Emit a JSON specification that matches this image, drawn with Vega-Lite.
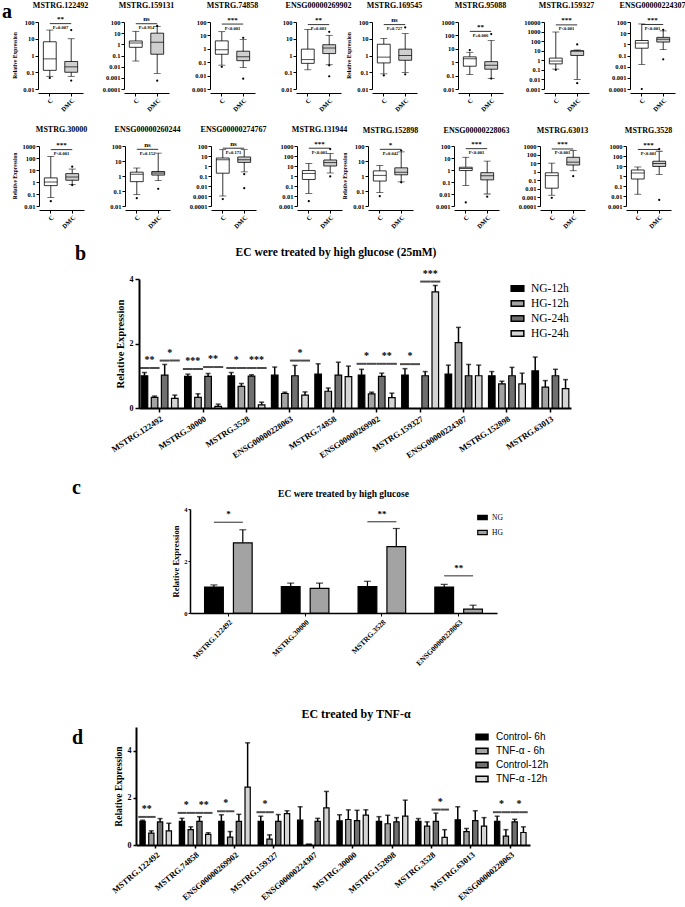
{
"$schema":"https://vega.github.io/schema/vega-lite/v6.json",
"padding":{"left":2,"top":2,"right":0,"bottom":0},
"background":"white",
"config":{"font":"Liberation Serif","view":{"stroke":null},
"axis":{"grid":false,"domainColor":"black","tickColor":"black","labelColor":"black","titleColor":"black","labelFont":"Liberation Serif","titleFont":"Liberation Serif","labelFontWeight":"bold","titleFontWeight":"bold"},
"header":{"labelColor":"black"},
"title":{"font":"Liberation Serif","fontWeight":"bold","color":"black"},
"legend":{"labelColor":"black"}},
"datasets":{
"box":[
{"b":"A1L","pn":"MSTRG.122492","k":"box","g":"C","lo":0.057,"q1":0.13,"md":0.63,"q3":6.6,"hi":33},
{"b":"A1L","pn":"MSTRG.122492","k":"box","g":"DMC","lo":0.057,"q1":0.1,"md":0.21,"q3":0.44,"hi":10},
{"b":"A1L","pn":"MSTRG.122492","k":"out","g":"C","v":0.046},
{"b":"A1L","pn":"MSTRG.122492","k":"out","g":"DMC","v":33},
{"b":"A1L","pn":"MSTRG.122492","k":"out","g":"DMC","v":0.032},
{"b":"A1L","pn":"MSTRG.122492","k":"sig","ya":80,"st":"**","p":"P=0.007"},
{"b":"A1L","pn":"MSTRG.159131","k":"box","g":"C","lo":0.032,"q1":0.54,"md":1.3,"q3":2.0,"hi":14.6},
{"b":"A1L","pn":"MSTRG.159131","k":"box","g":"DMC","lo":0.0025,"q1":0.13,"md":1.5,"q3":10,"hi":40},
{"b":"A1L","pn":"MSTRG.159131","k":"out","g":"DMC","v":0.00056},
{"b":"A1L","pn":"MSTRG.159131","k":"out","g":"DMC","v":44},
{"b":"A1L","pn":"MSTRG.159131","k":"sig","ya":70,"st":"ns","p":"P=0.914"},
{"b":"A1L","pn":"MSTRG.74858","k":"box","g":"C","lo":0.06,"q1":0.39,"md":0.84,"q3":3.9,"hi":19},
{"b":"A1L","pn":"MSTRG.74858","k":"box","g":"DMC","lo":0.039,"q1":0.13,"md":0.26,"q3":0.66,"hi":4.9},
{"b":"A1L","pn":"MSTRG.74858","k":"out","g":"C","v":0.045},
{"b":"A1L","pn":"MSTRG.74858","k":"out","g":"DMC","v":6.6},
{"b":"A1L","pn":"MSTRG.74858","k":"out","g":"DMC","v":0.0059},
{"b":"A1L","pn":"MSTRG.74858","k":"sig","ya":70,"st":"***","p":"P<0.001"},
{"b":"A1L","pn":"ENSG00000269902","k":"box","g":"C","lo":0.14,"q1":0.34,"md":0.57,"q3":2.4,"hi":36},
{"b":"A1L","pn":"ENSG00000269902","k":"box","g":"DMC","lo":0.28,"q1":1.3,"md":2.8,"q3":4.4,"hi":16},
{"b":"A1L","pn":"ENSG00000269902","k":"out","g":"DMC","v":26},
{"b":"A1L","pn":"ENSG00000269902","k":"out","g":"DMC","v":0.26},
{"b":"A1L","pn":"ENSG00000269902","k":"out","g":"DMC","v":0.057},
{"b":"A1L","pn":"ENSG00000269902","k":"sig","ya":70,"st":"**","p":"P=0.003"},
{"b":"A1R","pn":"MSTRG.169545","k":"box","g":"C","lo":0.08,"q1":0.36,"md":0.8,"q3":4.7,"hi":10.5},
{"b":"A1R","pn":"MSTRG.169545","k":"box","g":"DMC","lo":0.096,"q1":0.52,"md":1.0,"q3":2.4,"hi":20},
{"b":"A1R","pn":"MSTRG.169545","k":"out","g":"C","v":0.065},
{"b":"A1R","pn":"MSTRG.169545","k":"out","g":"DMC","v":47},
{"b":"A1R","pn":"MSTRG.169545","k":"out","g":"DMC","v":0.075},
{"b":"A1R","pn":"MSTRG.169545","k":"sig","ya":70,"st":"ns","p":"P=0.727"},
{"b":"A1R","pn":"MSTRG.95088","k":"box","g":"C","lo":0.12,"q1":0.5,"md":1.8,"q3":2.5,"hi":5.5},
{"b":"A1R","pn":"MSTRG.95088","k":"box","g":"DMC","lo":0.063,"q1":0.3,"md":0.6,"q3":1.1,"hi":42},
{"b":"A1R","pn":"MSTRG.95088","k":"out","g":"C","v":8},
{"b":"A1R","pn":"MSTRG.95088","k":"out","g":"DMC","v":126},
{"b":"A1R","pn":"MSTRG.95088","k":"out","g":"DMC","v":0.06},
{"b":"A1R","pn":"MSTRG.95088","k":"sig","ya":200,"st":"**","p":"P=0.006"},
{"b":"A1R","pn":"MSTRG.159327","k":"box","g":"C","lo":0.12,"q1":0.42,"md":0.83,"q3":1.7,"hi":900},
{"b":"A1R","pn":"MSTRG.159327","k":"box","g":"DMC","lo":0.01,"q1":3.2,"md":9,"q3":10,"hi":12},
{"b":"A1R","pn":"MSTRG.159327","k":"out","g":"C","v":0.1},
{"b":"A1R","pn":"MSTRG.159327","k":"out","g":"DMC","v":45},
{"b":"A1R","pn":"MSTRG.159327","k":"out","g":"DMC","v":0.004},
{"b":"A1R","pn":"MSTRG.159327","k":"sig","ya":5000,"st":"***","p":"P<0.001"},
{"b":"A1R","pn":"ENSG00000224307","k":"box","g":"C","lo":0.016,"q1":0.45,"md":1.3,"q3":2.2,"hi":67},
{"b":"A1R","pn":"ENSG00000224307","k":"box","g":"DMC","lo":0.33,"q1":1.6,"md":2.8,"q3":4.2,"hi":16},
{"b":"A1R","pn":"ENSG00000224307","k":"out","g":"C","v":0.0001},
{"b":"A1R","pn":"ENSG00000224307","k":"out","g":"DMC","v":20},
{"b":"A1R","pn":"ENSG00000224307","k":"out","g":"DMC","v":0.046},
{"b":"A1R","pn":"ENSG00000224307","k":"sig","ya":60,"st":"***","p":"P<0.001"},
{"b":"A2L","pn":"MSTRG.30000","k":"box","g":"C","lo":0.05,"q1":0.5,"md":1,"q3":2.2,"hi":135},
{"b":"A2L","pn":"MSTRG.30000","k":"box","g":"DMC","lo":0.6,"q1":1.4,"md":2.6,"q3":5,"hi":12},
{"b":"A2L","pn":"MSTRG.30000","k":"out","g":"C","v":0.025},
{"b":"A2L","pn":"MSTRG.30000","k":"out","g":"DMC","v":19},
{"b":"A2L","pn":"MSTRG.30000","k":"out","g":"DMC","v":0.55},
{"b":"A2L","pn":"MSTRG.30000","k":"sig","ya":500,"st":"***","p":"P<0.001"},
{"b":"A2L","pn":"ENSG00000260244","k":"box","g":"C","lo":0.057,"q1":0.42,"md":1.3,"q3":1.8,"hi":3.4},
{"b":"A2L","pn":"ENSG00000260244","k":"box","g":"DMC","lo":0.49,"q1":1.15,"md":1.6,"q3":2.0,"hi":34},
{"b":"A2L","pn":"ENSG00000260244","k":"out","g":"C","v":0.033},
{"b":"A2L","pn":"ENSG00000260244","k":"out","g":"DMC","v":0.14},
{"b":"A2L","pn":"ENSG00000260244","k":"sig","ya":60,"st":"ns","p":"P=0.152"},
{"b":"A2L","pn":"ENSG00000274767","k":"box","g":"C","lo":0.001,"q1":0.19,"md":4.2,"q3":6.3,"hi":43},
{"b":"A2L","pn":"ENSG00000274767","k":"box","g":"DMC","lo":0.26,"q1":2.3,"md":4.2,"q3":8,"hi":43},
{"b":"A2L","pn":"ENSG00000274767","k":"out","g":"C","v":0.0005},
{"b":"A2L","pn":"ENSG00000274767","k":"out","g":"DMC","v":0.15},
{"b":"A2L","pn":"ENSG00000274767","k":"out","g":"DMC","v":0.006},
{"b":"A2L","pn":"ENSG00000274767","k":"sig","ya":60,"st":"ns","p":"P=0.171"},
{"b":"A2L","pn":"MSTRG.131944","k":"box","g":"C","lo":0.018,"q1":0.45,"md":1.8,"q3":3.5,"hi":18},
{"b":"A2L","pn":"MSTRG.131944","k":"box","g":"DMC","lo":2,"q1":10,"md":22,"q3":40,"hi":180},
{"b":"A2L","pn":"MSTRG.131944","k":"out","g":"C","v":0.003},
{"b":"A2L","pn":"MSTRG.131944","k":"out","g":"DMC","v":500},
{"b":"A2L","pn":"MSTRG.131944","k":"out","g":"DMC","v":0.9},
{"b":"A2L","pn":"MSTRG.131944","k":"sig","ya":600,"st":"***","p":"P<0.001"},
{"b":"A2R","pn":"MSTRG.152898","k":"box","g":"C","lo":0.08,"q1":0.46,"md":1.1,"q3":2.2,"hi":5},
{"b":"A2R","pn":"MSTRG.152898","k":"box","g":"DMC","lo":0.4,"q1":1.2,"md":1.8,"q3":3.5,"hi":40},
{"b":"A2R","pn":"MSTRG.152898","k":"out","g":"C","v":0.045},
{"b":"A2R","pn":"MSTRG.152898","k":"out","g":"DMC","v":50},
{"b":"A2R","pn":"MSTRG.152898","k":"out","g":"DMC","v":0.38},
{"b":"A2R","pn":"MSTRG.152898","k":"sig","ya":60,"st":"*","p":"P=0.042"},
{"b":"A2R","pn":"ENSG00000228063","k":"box","g":"C","lo":0.05,"q1":0.9,"md":1.35,"q3":1.7,"hi":11.5},
{"b":"A2R","pn":"ENSG00000228063","k":"box","g":"DMC","lo":0.01,"q1":0.15,"md":0.33,"q3":0.6,"hi":5.5},
{"b":"A2R","pn":"ENSG00000228063","k":"out","g":"C","v":0.002},
{"b":"A2R","pn":"ENSG00000228063","k":"out","g":"DMC","v":0.006},
{"b":"A2R","pn":"ENSG00000228063","k":"sig","ya":60,"st":"***","p":"P<0.001"},
{"b":"A2R","pn":"MSTRG.63013","k":"box","g":"C","lo":0.0018,"q1":0.012,"md":0.35,"q3":0.75,"hi":10},
{"b":"A2R","pn":"MSTRG.63013","k":"box","g":"DMC","lo":1.3,"q1":6,"md":13,"q3":48,"hi":300},
{"b":"A2R","pn":"MSTRG.63013","k":"out","g":"C","v":0.0009},
{"b":"A2R","pn":"MSTRG.63013","k":"out","g":"DMC","v":0.3},
{"b":"A2R","pn":"MSTRG.63013","k":"sig","ya":450,"st":"***","p":"P<0.001"},
{"b":"A2R","pn":"MSTRG.3528","k":"box","g":"C","lo":0.015,"q1":0.5,"md":2,"q3":4,"hi":8},
{"b":"A2R","pn":"MSTRG.3528","k":"box","g":"DMC","lo":1.4,"q1":9,"md":18,"q3":30,"hi":300},
{"b":"A2R","pn":"MSTRG.3528","k":"out","g":"DMC","v":500},
{"b":"A2R","pn":"MSTRG.3528","k":"out","g":"DMC","v":0.004},
{"b":"A2R","pn":"MSTRG.3528","k":"sig","ya":450,"st":"***","p":"P<0.001"}
],
"hgb":[
{"gene":"MSTRG.122492","cond":"NG-12h","m":1.0,"hi":1.1},{"gene":"MSTRG.122492","cond":"HG-12h","m":0.33,"hi":0.37},{"gene":"MSTRG.122492","cond":"NG-24h","m":1.02,"hi":1.35},{"gene":"MSTRG.122492","cond":"HG-24h","m":0.3,"hi":0.4},
{"gene":"MSTRG.30000","cond":"NG-12h","m":0.98,"hi":1.05},{"gene":"MSTRG.30000","cond":"HG-12h","m":0.33,"hi":0.44},{"gene":"MSTRG.30000","cond":"NG-24h","m":0.98,"hi":1.07},{"gene":"MSTRG.30000","cond":"HG-24h","m":0.05,"hi":0.12},
{"gene":"MSTRG.3528","cond":"NG-12h","m":1.0,"hi":1.1},{"gene":"MSTRG.3528","cond":"HG-12h","m":0.67,"hi":0.76},{"gene":"MSTRG.3528","cond":"NG-24h","m":0.99,"hi":1.03},{"gene":"MSTRG.3528","cond":"HG-24h","m":0.1,"hi":0.18},
{"gene":"ENSG00000228063","cond":"NG-12h","m":1.02,"hi":1.27},{"gene":"ENSG00000228063","cond":"HG-12h","m":0.45,"hi":0.49},{"gene":"ENSG00000228063","cond":"NG-24h","m":1.0,"hi":1.32},{"gene":"ENSG00000228063","cond":"HG-24h","m":0.4,"hi":0.5},
{"gene":"MSTRG.74858","cond":"NG-12h","m":1.05,"hi":1.37},{"gene":"MSTRG.74858","cond":"HG-12h","m":0.52,"hi":0.62},{"gene":"MSTRG.74858","cond":"NG-24h","m":1.02,"hi":1.42},{"gene":"MSTRG.74858","cond":"HG-24h","m":0.97,"hi":1.3},
{"gene":"ENSG00000269902","cond":"NG-12h","m":1.02,"hi":1.2},{"gene":"ENSG00000269902","cond":"HG-12h","m":0.44,"hi":0.49},{"gene":"ENSG00000269902","cond":"NG-24h","m":0.98,"hi":1.08},{"gene":"ENSG00000269902","cond":"HG-24h","m":0.32,"hi":0.46},
{"gene":"MSTRG.159327","cond":"NG-12h","m":1.02,"hi":1.22},{"gene":"MSTRG.159327","cond":"NG-24h","m":1.0,"hi":1.13},{"gene":"MSTRG.159327","cond":"HG-24h","m":3.6,"hi":3.8},
{"gene":"ENSG00000224307","cond":"NG-12h","m":1.05,"hi":1.33},{"gene":"ENSG00000224307","cond":"HG-12h","m":2.03,"hi":2.5},{"gene":"ENSG00000224307","cond":"NG-24h","m":1.0,"hi":1.35},{"gene":"ENSG00000224307","cond":"HG-24h","m":1.0,"hi":1.33},
{"gene":"MSTRG.152898","cond":"NG-12h","m":1.0,"hi":1.13},{"gene":"MSTRG.152898","cond":"HG-12h","m":0.75,"hi":0.83},{"gene":"MSTRG.152898","cond":"NG-24h","m":1.0,"hi":1.26},{"gene":"MSTRG.152898","cond":"HG-24h","m":0.75,"hi":1.08},
{"gene":"MSTRG.63013","cond":"NG-12h","m":1.15,"hi":1.58},{"gene":"MSTRG.63013","cond":"HG-12h","m":0.65,"hi":0.85},{"gene":"MSTRG.63013","cond":"NG-24h","m":1.0,"hi":1.2},{"gene":"MSTRG.63013","cond":"HG-24h","m":0.6,"hi":0.88}
],
"hgbs":[
{"gene":"MSTRG.122492","c1":"NG-12h","c2":"HG-12h","st":"**","y":1.24},{"gene":"MSTRG.122492","c1":"NG-24h","c2":"HG-24h","st":"*","y":1.47},
{"gene":"MSTRG.30000","c1":"NG-12h","c2":"HG-12h","st":"***","y":1.21},{"gene":"MSTRG.30000","c1":"NG-24h","c2":"HG-24h","st":"**","y":1.27},
{"gene":"MSTRG.3528","c1":"NG-12h","c2":"HG-12h","st":"*","y":1.24},{"gene":"MSTRG.3528","c1":"NG-24h","c2":"HG-24h","st":"***","y":1.24},
{"gene":"ENSG00000228063","c1":"NG-24h","c2":"HG-24h","st":"*","y":1.47},
{"gene":"ENSG00000269902","c1":"NG-12h","c2":"HG-12h","st":"*","y":1.37},{"gene":"ENSG00000269902","c1":"NG-24h","c2":"HG-24h","st":"**","y":1.37},
{"gene":"MSTRG.159327","c1":"NG-12h","c2":"HG-12h","st":"*","y":1.36},{"gene":"MSTRG.159327","c1":"NG-24h","c2":"HG-24h","st":"***","y":3.92}
],
"hgc":[
{"gene":"MSTRG.122492","cond":"NG","m":1.0,"hi":1.08},{"gene":"MSTRG.122492","cond":"HG","m":2.7,"hi":3.2},
{"gene":"MSTRG.30000","cond":"NG","m":1.02,"hi":1.15},{"gene":"MSTRG.30000","cond":"HG","m":0.95,"hi":1.15},
{"gene":"MSTRG.3528","cond":"NG","m":1.02,"hi":1.22},{"gene":"MSTRG.3528","cond":"HG","m":2.55,"hi":3.25},
{"gene":"ENSG00000228063","cond":"NG","m":1.0,"hi":1.1},{"gene":"ENSG00000228063","cond":"HG","m":0.15,"hi":0.3}
],
"hgcs":[
{"gene":"MSTRG.122492","st":"*","y":3.49},{"gene":"MSTRG.3528","st":"**","y":3.51},{"gene":"ENSG00000228063","st":"**","y":1.43}
],
"tnf":[
{"gene":"MSTRG.122492","cond":"Control- 6h","m":1.0,"hi":1.05},{"gene":"MSTRG.122492","cond":"TNF-α - 6h","m":0.5,"hi":0.6},{"gene":"MSTRG.122492","cond":"Control-12h","m":0.98,"hi":1.12},{"gene":"MSTRG.122492","cond":"TNF-α -12h","m":0.6,"hi":0.92},
{"gene":"MSTRG.74858","cond":"Control- 6h","m":1.0,"hi":1.13},{"gene":"MSTRG.74858","cond":"TNF-α - 6h","m":0.65,"hi":0.77},{"gene":"MSTRG.74858","cond":"Control-12h","m":1.0,"hi":1.2},{"gene":"MSTRG.74858","cond":"TNF-α -12h","m":0.45,"hi":0.52},
{"gene":"ENSG00000269902","cond":"Control- 6h","m":1.0,"hi":1.28},{"gene":"ENSG00000269902","cond":"TNF-α - 6h","m":0.33,"hi":0.57},{"gene":"ENSG00000269902","cond":"Control-12h","m":1.0,"hi":1.3},{"gene":"ENSG00000269902","cond":"TNF-α -12h","m":2.45,"hi":4.33},
{"gene":"MSTRG.159327","cond":"Control- 6h","m":1.0,"hi":1.22},{"gene":"MSTRG.159327","cond":"TNF-α - 6h","m":0.25,"hi":0.43},{"gene":"MSTRG.159327","cond":"Control-12h","m":1.0,"hi":1.29},{"gene":"MSTRG.159327","cond":"TNF-α -12h","m":1.33,"hi":1.45},
{"gene":"ENSG00000224307","cond":"Control- 6h","m":1.05,"hi":1.62},{"gene":"ENSG00000224307","cond":"TNF-α - 6h","m":0.03,"hi":0.03},{"gene":"ENSG00000224307","cond":"Control-12h","m":1.0,"hi":1.13},{"gene":"ENSG00000224307","cond":"TNF-α -12h","m":1.57,"hi":2.27},
{"gene":"MSTRG.30000","cond":"Control- 6h","m":1.02,"hi":1.28},{"gene":"MSTRG.30000","cond":"TNF-α - 6h","m":1.08,"hi":1.49},{"gene":"MSTRG.30000","cond":"Control-12h","m":1.03,"hi":1.47},{"gene":"MSTRG.30000","cond":"TNF-α -12h","m":1.27,"hi":1.49},
{"gene":"MSTRG.152898","cond":"Control- 6h","m":1.0,"hi":1.2},{"gene":"MSTRG.152898","cond":"TNF-α - 6h","m":0.9,"hi":1.26},{"gene":"MSTRG.152898","cond":"Control-12h","m":0.98,"hi":1.16},{"gene":"MSTRG.152898","cond":"TNF-α -12h","m":1.22,"hi":1.9},
{"gene":"MSTRG.3528","cond":"Control- 6h","m":1.0,"hi":1.12},{"gene":"MSTRG.3528","cond":"TNF-α - 6h","m":0.8,"hi":0.98},{"gene":"MSTRG.3528","cond":"Control-12h","m":1.0,"hi":1.35},{"gene":"MSTRG.3528","cond":"TNF-α -12h","m":0.32,"hi":0.65},
{"gene":"MSTRG.63013","cond":"Control- 6h","m":1.07,"hi":1.62},{"gene":"MSTRG.63013","cond":"TNF-α - 6h","m":0.57,"hi":0.7},{"gene":"MSTRG.63013","cond":"Control-12h","m":1.03,"hi":1.45},{"gene":"MSTRG.63013","cond":"TNF-α -12h","m":0.8,"hi":1.16},
{"gene":"ENSG00000228063","cond":"Control- 6h","m":1.0,"hi":1.22},{"gene":"ENSG00000228063","cond":"TNF-α - 6h","m":0.38,"hi":0.65},{"gene":"ENSG00000228063","cond":"Control-12h","m":0.98,"hi":1.09},{"gene":"ENSG00000228063","cond":"TNF-α -12h","m":0.53,"hi":0.77}
],
"tnfs":[
{"gene":"MSTRG.122492","c1":"Control- 6h","c2":"TNF-α - 6h","st":"**","y":1.19},
{"gene":"MSTRG.74858","c1":"Control- 6h","c2":"TNF-α - 6h","st":"*","y":1.36},{"gene":"MSTRG.74858","c1":"Control-12h","c2":"TNF-α -12h","st":"**","y":1.36},
{"gene":"ENSG00000269902","c1":"Control- 6h","c2":"TNF-α - 6h","st":"*","y":1.43},
{"gene":"MSTRG.159327","c1":"Control- 6h","c2":"TNF-α - 6h","st":"*","y":1.39},
{"gene":"MSTRG.3528","c1":"Control-12h","c2":"TNF-α -12h","st":"*","y":1.5},
{"gene":"ENSG00000228063","c1":"Control- 6h","c2":"TNF-α - 6h","st":"*","y":1.39},{"gene":"ENSG00000228063","c1":"Control-12h","c2":"TNF-α -12h","st":"*","y":1.39}
]
},
"resolve":{"scale":{"fill":"independent","color":"independent","xOffset":"independent"},"legend":{"fill":"independent","color":"independent"}},
"spacing":18,
"vconcat":[
{"spacing":14,"resolve":{"scale":{"fill":"independent","color":"independent","xOffset":"independent"},"legend":{"fill":"independent","color":"independent"}},"vconcat":[
{"spacing":13,"vconcat":[
 {"spacing":0,"hconcat":[
  {"width":10,"height":10,"data":{"values":[]},"mark":"point","title":{"text":"a","anchor":"start","fontSize":20,"offset":0}},
  {"spacing":-6,"hconcat":[
   {"data":{"name":"box"},"transform":[{"filter":"datum.b=='A1L'"}],
    "facet":{"row":{"field":"b","type":"nominal","title":null,"header":{"labelExpr":"'Relative Expression'","labelAngle":-90,"labelOrient":"left","labelFont":"Liberation Serif","labelFontWeight":"bold","labelFontSize":5.5,"labelPadding":2}},
     "column":{"field":"pn","type":"nominal","title":null,"sort":["MSTRG.122492","MSTRG.159131","MSTRG.74858","ENSG00000269902"],"header":{"labelFont":"Liberation Serif","labelFontWeight":"bold","labelFontSize":8,"labelPadding":5}}},
    "spacing":{"column":19,"row":0},"resolve":{"scale":{"y":"independent"}},
    "spec":{"width":45,"height":67,
     "encoding":{"x":{"field":"g","type":"nominal","scale":{"domain":["C","DMC"],"paddingInner":0.4,"paddingOuter":0.25},"axis":{"title":null,"labelAngle":-45,"labelFontSize":6.5,"tickSize":3,"labelPadding":1,"domainWidth":1}}},
     "layer":[
      {"transform":[{"filter":"datum.k=='box'"}],"mark":{"type":"rule","color":"black","strokeWidth":0.8},"encoding":{"y":{"field":"lo","type":"quantitative","scale":{"type":"log"},"axis":{"title":null,"values":[0.0001,0.001,0.01,0.1,1,10,100,1000,10000],"tickCount":20,"labelExpr":"format(datum.value,'~g')","labelFontSize":6.5,"tickSize":3,"labelPadding":1,"domainWidth":1}},"y2":{"field":"hi"}}},
      {"transform":[{"filter":"datum.k=='box'"}],"mark":{"type":"tick","color":"black","thickness":0.8,"size":7},"encoding":{"y":{"field":"lo","type":"quantitative"}}},
      {"transform":[{"filter":"datum.k=='box'"}],"mark":{"type":"tick","color":"black","thickness":0.8,"size":7},"encoding":{"y":{"field":"hi","type":"quantitative"}}},
      {"transform":[{"filter":"datum.k=='box'"}],"mark":{"type":"bar","stroke":"black","strokeWidth":0.8},"encoding":{"y":{"field":"q1","type":"quantitative"},"y2":{"field":"q3"},"color":{"field":"g","type":"nominal","scale":{"domain":["C","DMC"],"range":["#ffffff","#cfcfcf"]},"legend":null}}},
      {"transform":[{"filter":"datum.k=='box'"}],"mark":{"type":"tick","color":"black","thickness":1,"size":13},"encoding":{"y":{"field":"md","type":"quantitative"}}},
      {"transform":[{"filter":"datum.k=='out'"}],"mark":{"type":"point","filled":true,"color":"black","size":5,"opacity":1},"encoding":{"y":{"field":"v","type":"quantitative"}}},
      {"transform":[{"filter":"datum.k=='sig'"}],"mark":{"type":"rule","color":"black","strokeWidth":0.8},"encoding":{"x":{"datum":"C"},"x2":{"datum":"DMC"},"y":{"field":"ya","type":"quantitative"}}},
      {"transform":[{"filter":"datum.k=='sig'"}],"mark":{"type":"text","dx":10.7,"dy":-1.5,"baseline":"bottom","fontSize":7,"fontWeight":"bold"},"encoding":{"x":{"datum":"C"},"y":{"field":"ya","type":"quantitative"},"text":{"field":"st"}}},
      {"transform":[{"filter":"datum.k=='sig'"}],"mark":{"type":"text","dx":10.7,"dy":1.5,"baseline":"top","fontSize":4.5,"fontWeight":"bold"},"encoding":{"x":{"datum":"C"},"y":{"field":"ya","type":"quantitative"},"text":{"field":"p"}}}
     ]}},
   {"data":{"name":"box"},"transform":[{"filter":"datum.b=='A1R'"}],
    "facet":{"row":{"field":"b","type":"nominal","title":null,"header":{"labelExpr":"'Relative Expression'","labelAngle":-90,"labelOrient":"left","labelFont":"Liberation Serif","labelFontWeight":"bold","labelFontSize":5.5,"labelPadding":2}},
     "column":{"field":"pn","type":"nominal","title":null,"sort":["MSTRG.169545","MSTRG.95088","MSTRG.159327","ENSG00000224307"],"header":{"labelFont":"Liberation Serif","labelFontWeight":"bold","labelFontSize":8,"labelPadding":5}}},
    "spacing":{"column":19,"row":0},"resolve":{"scale":{"y":"independent"}},
    "spec":{"width":45,"height":67,
     "encoding":{"x":{"field":"g","type":"nominal","scale":{"domain":["C","DMC"],"paddingInner":0.4,"paddingOuter":0.25},"axis":{"title":null,"labelAngle":-45,"labelFontSize":6.5,"tickSize":3,"labelPadding":1,"domainWidth":1}}},
     "layer":[
      {"transform":[{"filter":"datum.k=='box'"}],"mark":{"type":"rule","color":"black","strokeWidth":0.8},"encoding":{"y":{"field":"lo","type":"quantitative","scale":{"type":"log"},"axis":{"title":null,"values":[0.0001,0.001,0.01,0.1,1,10,100,1000,10000],"tickCount":20,"labelExpr":"format(datum.value,'~g')","labelFontSize":6.5,"tickSize":3,"labelPadding":1,"domainWidth":1}},"y2":{"field":"hi"}}},
      {"transform":[{"filter":"datum.k=='box'"}],"mark":{"type":"tick","color":"black","thickness":0.8,"size":7},"encoding":{"y":{"field":"lo","type":"quantitative"}}},
      {"transform":[{"filter":"datum.k=='box'"}],"mark":{"type":"tick","color":"black","thickness":0.8,"size":7},"encoding":{"y":{"field":"hi","type":"quantitative"}}},
      {"transform":[{"filter":"datum.k=='box'"}],"mark":{"type":"bar","stroke":"black","strokeWidth":0.8},"encoding":{"y":{"field":"q1","type":"quantitative"},"y2":{"field":"q3"},"color":{"field":"g","type":"nominal","scale":{"domain":["C","DMC"],"range":["#ffffff","#cfcfcf"]},"legend":null}}},
      {"transform":[{"filter":"datum.k=='box'"}],"mark":{"type":"tick","color":"black","thickness":1,"size":13},"encoding":{"y":{"field":"md","type":"quantitative"}}},
      {"transform":[{"filter":"datum.k=='out'"}],"mark":{"type":"point","filled":true,"color":"black","size":5,"opacity":1},"encoding":{"y":{"field":"v","type":"quantitative"}}},
      {"transform":[{"filter":"datum.k=='sig'"}],"mark":{"type":"rule","color":"black","strokeWidth":0.8},"encoding":{"x":{"datum":"C"},"x2":{"datum":"DMC"},"y":{"field":"ya","type":"quantitative"}}},
      {"transform":[{"filter":"datum.k=='sig'"}],"mark":{"type":"text","dx":10.7,"dy":-1.5,"baseline":"bottom","fontSize":7,"fontWeight":"bold"},"encoding":{"x":{"datum":"C"},"y":{"field":"ya","type":"quantitative"},"text":{"field":"st"}}},
      {"transform":[{"filter":"datum.k=='sig'"}],"mark":{"type":"text","dx":10.7,"dy":1.5,"baseline":"top","fontSize":4.5,"fontWeight":"bold"},"encoding":{"x":{"datum":"C"},"y":{"field":"ya","type":"quantitative"},"text":{"field":"p"}}}
     ]}}
  ]}
 ]},
 {"spacing":0,"hconcat":[
  {"width":10,"height":10,"data":{"values":[]},"mark":"point"},
  {"spacing":-6,"hconcat":[
   {"data":{"name":"box"},"transform":[{"filter":"datum.b=='A2L'"}],
    "facet":{"row":{"field":"b","type":"nominal","title":null,"header":{"labelExpr":"'Relative Expression'","labelAngle":-90,"labelOrient":"left","labelFont":"Liberation Serif","labelFontWeight":"bold","labelFontSize":5.5,"labelPadding":2}},
     "column":{"field":"pn","type":"nominal","title":null,"sort":["MSTRG.30000","ENSG00000260244","ENSG00000274767","MSTRG.131944"],"header":{"labelFont":"Liberation Serif","labelFontWeight":"bold","labelFontSize":8,"labelPadding":5}}},
    "spacing":{"column":19,"row":0},"resolve":{"scale":{"y":"independent"}},
    "spec":{"width":45,"height":60,
     "encoding":{"x":{"field":"g","type":"nominal","scale":{"domain":["C","DMC"],"paddingInner":0.4,"paddingOuter":0.25},"axis":{"title":null,"labelAngle":-45,"labelFontSize":6.5,"tickSize":3,"labelPadding":1,"domainWidth":1}}},
     "layer":[
      {"transform":[{"filter":"datum.k=='box'"}],"mark":{"type":"rule","color":"black","strokeWidth":0.8},"encoding":{"y":{"field":"lo","type":"quantitative","scale":{"type":"log"},"axis":{"title":null,"values":[0.0001,0.001,0.01,0.1,1,10,100,1000,10000],"tickCount":20,"labelExpr":"format(datum.value,'~g')","labelFontSize":6.5,"tickSize":3,"labelPadding":1,"domainWidth":1}},"y2":{"field":"hi"}}},
      {"transform":[{"filter":"datum.k=='box'"}],"mark":{"type":"tick","color":"black","thickness":0.8,"size":7},"encoding":{"y":{"field":"lo","type":"quantitative"}}},
      {"transform":[{"filter":"datum.k=='box'"}],"mark":{"type":"tick","color":"black","thickness":0.8,"size":7},"encoding":{"y":{"field":"hi","type":"quantitative"}}},
      {"transform":[{"filter":"datum.k=='box'"}],"mark":{"type":"bar","stroke":"black","strokeWidth":0.8},"encoding":{"y":{"field":"q1","type":"quantitative"},"y2":{"field":"q3"},"color":{"field":"g","type":"nominal","scale":{"domain":["C","DMC"],"range":["#ffffff","#cfcfcf"]},"legend":null}}},
      {"transform":[{"filter":"datum.k=='box'"}],"mark":{"type":"tick","color":"black","thickness":1,"size":13},"encoding":{"y":{"field":"md","type":"quantitative"}}},
      {"transform":[{"filter":"datum.k=='out'"}],"mark":{"type":"point","filled":true,"color":"black","size":5,"opacity":1},"encoding":{"y":{"field":"v","type":"quantitative"}}},
      {"transform":[{"filter":"datum.k=='sig'"}],"mark":{"type":"rule","color":"black","strokeWidth":0.8},"encoding":{"x":{"datum":"C"},"x2":{"datum":"DMC"},"y":{"field":"ya","type":"quantitative"}}},
      {"transform":[{"filter":"datum.k=='sig'"}],"mark":{"type":"text","dx":10.7,"dy":-1.5,"baseline":"bottom","fontSize":7,"fontWeight":"bold"},"encoding":{"x":{"datum":"C"},"y":{"field":"ya","type":"quantitative"},"text":{"field":"st"}}},
      {"transform":[{"filter":"datum.k=='sig'"}],"mark":{"type":"text","dx":10.7,"dy":1.5,"baseline":"top","fontSize":4.5,"fontWeight":"bold"},"encoding":{"x":{"datum":"C"},"y":{"field":"ya","type":"quantitative"},"text":{"field":"p"}}}
     ]}},
   {"data":{"name":"box"},"transform":[{"filter":"datum.b=='A2R'"}],
    "facet":{"row":{"field":"b","type":"nominal","title":null,"header":{"labelExpr":"'Relative Expression'","labelAngle":-90,"labelOrient":"left","labelFont":"Liberation Serif","labelFontWeight":"bold","labelFontSize":5.5,"labelPadding":2}},
     "column":{"field":"pn","type":"nominal","title":null,"sort":["MSTRG.152898","ENSG00000228063","MSTRG.63013","MSTRG.3528"],"header":{"labelFont":"Liberation Serif","labelFontWeight":"bold","labelFontSize":8,"labelPadding":5}}},
    "spacing":{"column":19,"row":0},"resolve":{"scale":{"y":"independent"}},
    "spec":{"width":45,"height":60,
     "encoding":{"x":{"field":"g","type":"nominal","scale":{"domain":["C","DMC"],"paddingInner":0.4,"paddingOuter":0.25},"axis":{"title":null,"labelAngle":-45,"labelFontSize":6.5,"tickSize":3,"labelPadding":1,"domainWidth":1}}},
     "layer":[
      {"transform":[{"filter":"datum.k=='box'"}],"mark":{"type":"rule","color":"black","strokeWidth":0.8},"encoding":{"y":{"field":"lo","type":"quantitative","scale":{"type":"log"},"axis":{"title":null,"values":[0.0001,0.001,0.01,0.1,1,10,100,1000,10000],"tickCount":20,"labelExpr":"format(datum.value,'~g')","labelFontSize":6.5,"tickSize":3,"labelPadding":1,"domainWidth":1}},"y2":{"field":"hi"}}},
      {"transform":[{"filter":"datum.k=='box'"}],"mark":{"type":"tick","color":"black","thickness":0.8,"size":7},"encoding":{"y":{"field":"lo","type":"quantitative"}}},
      {"transform":[{"filter":"datum.k=='box'"}],"mark":{"type":"tick","color":"black","thickness":0.8,"size":7},"encoding":{"y":{"field":"hi","type":"quantitative"}}},
      {"transform":[{"filter":"datum.k=='box'"}],"mark":{"type":"bar","stroke":"black","strokeWidth":0.8},"encoding":{"y":{"field":"q1","type":"quantitative"},"y2":{"field":"q3"},"color":{"field":"g","type":"nominal","scale":{"domain":["C","DMC"],"range":["#ffffff","#cfcfcf"]},"legend":null}}},
      {"transform":[{"filter":"datum.k=='box'"}],"mark":{"type":"tick","color":"black","thickness":1,"size":13},"encoding":{"y":{"field":"md","type":"quantitative"}}},
      {"transform":[{"filter":"datum.k=='out'"}],"mark":{"type":"point","filled":true,"color":"black","size":5,"opacity":1},"encoding":{"y":{"field":"v","type":"quantitative"}}},
      {"transform":[{"filter":"datum.k=='sig'"}],"mark":{"type":"rule","color":"black","strokeWidth":0.8},"encoding":{"x":{"datum":"C"},"x2":{"datum":"DMC"},"y":{"field":"ya","type":"quantitative"}}},
      {"transform":[{"filter":"datum.k=='sig'"}],"mark":{"type":"text","dx":10.7,"dy":-1.5,"baseline":"bottom","fontSize":7,"fontWeight":"bold"},"encoding":{"x":{"datum":"C"},"y":{"field":"ya","type":"quantitative"},"text":{"field":"st"}}},
      {"transform":[{"filter":"datum.k=='sig'"}],"mark":{"type":"text","dx":10.7,"dy":1.5,"baseline":"top","fontSize":4.5,"fontWeight":"bold"},"encoding":{"x":{"datum":"C"},"y":{"field":"ya","type":"quantitative"},"text":{"field":"p"}}}
     ]}}
  ]}
 ]}
]},
 {"spacing":0,"hconcat":[
  {"width":107,"height":10,"data":{"values":[]},"mark":"point","title":{"text":"b","anchor":"start","fontSize":20,"dx":73,"offset":15}},
  {"width":432,"height":129,
   "title":{"text":"EC were treated by high glucose (25mM)","fontSize":11.5,"dx":-19,"offset":10},
   "encoding":{"x":{"field":"gene","type":"nominal","sort":["MSTRG.122492","MSTRG.30000","MSTRG.3528","ENSG00000228063","MSTRG.74858","ENSG00000269902","MSTRG.159327","ENSG00000224307","MSTRG.152898","MSTRG.63013"],"scale":{"paddingInner":0.15,"paddingOuter":0.05},"axis":{"title":null,"labelAngle":-33,"labelFontSize":8.5,"domainWidth":2,"tickWidth":1.5,"tickSize":4,"labelPadding":2}}},
   "layer":[
    {"data":{"name":"hgb"},"mark":{"type":"bar","stroke":"black","strokeWidth":1.2},"encoding":{"xOffset":{"field":"cond","type":"nominal","sort":["NG-12h","HG-12h","NG-24h","HG-24h"],"scale":{"domain":["NG-12h","HG-12h","NG-24h","HG-24h"],"paddingInner":0.35,"paddingOuter":0}},"y":{"field":"m","type":"quantitative","scale":{"domain":[0,4],"nice":false},"axis":{"title":"Relative Expression","values":[0,1,2,3,4],"labelFontSize":8,"titleFontSize":10.5,"domainWidth":2,"tickWidth":1.5,"tickSize":4,"labelPadding":2,"titlePadding":4}},"fill":{"field":"cond","type":"nominal","scale":{"domain":["NG-12h","HG-12h","NG-24h","HG-24h"],"range":["#000000","#a3a3a3","#6f6f6f","#d4d4d4"]},"legend":{"title":null,"orient":"none","legendX":508,"legendY":2,"symbolType":"M-1,-0.45H1V0.45H-1Z","symbolSize":160,"symbolStrokeColor":"black","symbolStrokeWidth":1.5,"labelFontSize":11.5,"labelFont":"Liberation Serif","rowPadding":1,"labelOffset":6}}}},
    {"data":{"name":"hgb"},"mark":{"type":"rule","color":"black","strokeWidth":1.5},"encoding":{"xOffset":{"field":"cond","type":"nominal","scale":{"domain":["NG-12h","HG-12h","NG-24h","HG-24h"],"paddingInner":0.35,"paddingOuter":0}},"y":{"field":"m","type":"quantitative"},"y2":{"field":"hi"}}},
    {"data":{"name":"hgb"},"mark":{"type":"tick","color":"black","thickness":1.5,"size":5},"encoding":{"xOffset":{"field":"cond","type":"nominal","scale":{"domain":["NG-12h","HG-12h","NG-24h","HG-24h"],"paddingInner":0.35,"paddingOuter":0}},"y":{"field":"hi","type":"quantitative"}}},
    {"data":{"name":"hgbs"},"mark":{"type":"tick","color":"black","thickness":2,"size":10},"encoding":{"xOffset":{"field":"c1","type":"nominal","scale":{"domain":["NG-12h","HG-12h","NG-24h","HG-24h"],"paddingInner":0.35,"paddingOuter":0}},"y":{"field":"y","type":"quantitative"}}},
    {"data":{"name":"hgbs"},"mark":{"type":"tick","color":"black","thickness":2,"size":10},"encoding":{"xOffset":{"field":"c2","type":"nominal","scale":{"domain":["NG-12h","HG-12h","NG-24h","HG-24h"],"paddingInner":0.35,"paddingOuter":0}},"y":{"field":"y","type":"quantitative"}}},
    {"data":{"name":"hgbs"},"mark":{"type":"text","dx":5,"dy":-3,"baseline":"bottom","fontSize":10,"fontWeight":"bold"},"encoding":{"xOffset":{"field":"c1","type":"nominal","scale":{"domain":["NG-12h","HG-12h","NG-24h","HG-24h"],"paddingInner":0.35,"paddingOuter":0}},"y":{"field":"y","type":"quantitative"},"text":{"field":"st"}}}
   ]}
 ]}
]},
{"spacing":41,"resolve":{"scale":{"fill":"independent","color":"independent","xOffset":"independent"},"legend":{"fill":"independent","color":"independent"}},"vconcat":[
 {"spacing":0,"hconcat":[
  {"width":169,"height":10,"data":{"values":[]},"mark":"point","title":{"text":"c","anchor":"start","fontSize":20,"dx":70,"offset":11}},
  {"width":307,"height":104,
   "title":{"text":"EC were treated by high glucose","fontSize":9.5,"offset":8},
   "encoding":{"x":{"field":"gene","type":"nominal","sort":["MSTRG.122492","MSTRG.30000","MSTRG.3528","ENSG00000228063"],"scale":{"paddingInner":0.38,"paddingOuter":0.19},"axis":{"title":null,"labelAngle":-45,"labelFontSize":7.5,"domainWidth":1.5,"tickWidth":1,"tickSize":3,"labelPadding":2}}},
   "layer":[
    {"data":{"name":"hgc"},"mark":{"type":"bar","stroke":"black","strokeWidth":1.2},"encoding":{"xOffset":{"field":"cond","type":"nominal","sort":["NG","HG"],"scale":{"domain":["NG","HG"],"paddingInner":0.35,"paddingOuter":0}},"y":{"field":"m","type":"quantitative","scale":{"domain":[0,4],"nice":false},"axis":{"title":"Relative Expression","values":[0,1,2,3,4],"labelFontSize":6.5,"titleFontSize":8.5,"domainWidth":1.5,"tickWidth":1,"tickSize":2,"labelPadding":1,"titlePadding":3}},"fill":{"field":"cond","type":"nominal","scale":{"domain":["NG","HG"],"range":["#000000","#a3a3a3"]},"legend":{"title":null,"orient":"none","legendX":475,"legendY":3,"symbolType":"M-1,-0.45H1V0.45H-1Z","symbolSize":90,"symbolStrokeColor":"black","symbolStrokeWidth":1.2,"labelFontSize":7.5,"labelFont":"Liberation Serif","rowPadding":4,"labelOffset":4}}}},
    {"data":{"name":"hgc"},"mark":{"type":"rule","color":"black","strokeWidth":1.2},"encoding":{"xOffset":{"field":"cond","type":"nominal","scale":{"domain":["NG","HG"],"paddingInner":0.35,"paddingOuter":0}},"y":{"field":"m","type":"quantitative"},"y2":{"field":"hi"}}},
    {"data":{"name":"hgc"},"mark":{"type":"tick","color":"black","thickness":1.2,"size":7},"encoding":{"xOffset":{"field":"cond","type":"nominal","scale":{"domain":["NG","HG"],"paddingInner":0.35,"paddingOuter":0}},"y":{"field":"hi","type":"quantitative"}}},
    {"data":{"name":"hgcs"},"mark":{"type":"tick","color":"black","thickness":1.2,"size":29},"encoding":{"y":{"field":"y","type":"quantitative"}}},
    {"data":{"name":"hgcs"},"mark":{"type":"text","dy":-3,"baseline":"bottom","fontSize":9,"fontWeight":"bold"},"encoding":{"y":{"field":"y","type":"quantitative"},"text":{"field":"st"}}}
   ]}
 ]},
 {"spacing":0,"hconcat":[
  {"width":108,"height":1,"data":{"values":[]},"mark":"point","title":{"text":"d","anchor":"start","orient":"bottom","fontSize":20,"dx":70,"offset":0}},
  {"width":394,"height":118,
   "title":{"text":"EC treated by TNF-α","fontSize":12,"dx":23,"offset":6},
   "encoding":{"x":{"field":"gene","type":"nominal","sort":["MSTRG.122492","MSTRG.74858","ENSG00000269902","MSTRG.159327","ENSG00000224307","MSTRG.30000","MSTRG.152898","MSTRG.3528","MSTRG.63013","ENSG00000228063"],"scale":{"paddingInner":0.2,"paddingOuter":0.1},"axis":{"title":null,"labelAngle":-40,"labelFontSize":8.5,"domainWidth":2,"tickWidth":1.5,"tickSize":3,"labelPadding":2}}},
   "layer":[
    {"data":{"name":"tnf"},"mark":{"type":"bar","stroke":"black","strokeWidth":1.2},"encoding":{"xOffset":{"field":"cond","type":"nominal","sort":["Control- 6h","TNF-α - 6h","Control-12h","TNF-α -12h"],"scale":{"domain":["Control- 6h","TNF-α - 6h","Control-12h","TNF-α -12h"],"paddingInner":0.4,"paddingOuter":0}},"y":{"field":"m","type":"quantitative","scale":{"domain":[0,5],"nice":false},"axis":{"title":"Relative Expression","values":[0,1,2,3,4,5],"labelFontSize":8,"titleFontSize":9.5,"domainWidth":2,"tickWidth":1.5,"tickSize":3,"labelPadding":2,"titlePadding":4}},"fill":{"field":"cond","type":"nominal","scale":{"domain":["Control- 6h","TNF-α - 6h","Control-12h","TNF-α -12h"],"range":["#000000","#a3a3a3","#6f6f6f","#d4d4d4"]},"legend":{"title":null,"orient":"none","legendX":473,"legendY":3,"symbolType":"M-1,-0.45H1V0.45H-1Z","symbolSize":144,"symbolStrokeColor":"black","symbolStrokeWidth":1.5,"labelFontSize":10,"labelFont":"Liberation Sans","rowPadding":1,"labelOffset":7}}}},
    {"data":{"name":"tnf"},"mark":{"type":"rule","color":"black","strokeWidth":1.5},"encoding":{"xOffset":{"field":"cond","type":"nominal","scale":{"domain":["Control- 6h","TNF-α - 6h","Control-12h","TNF-α -12h"],"paddingInner":0.4,"paddingOuter":0}},"y":{"field":"m","type":"quantitative"},"y2":{"field":"hi"}}},
    {"data":{"name":"tnf"},"mark":{"type":"tick","color":"black","thickness":1.5,"size":5},"encoding":{"xOffset":{"field":"cond","type":"nominal","scale":{"domain":["Control- 6h","TNF-α - 6h","Control-12h","TNF-α -12h"],"paddingInner":0.4,"paddingOuter":0}},"y":{"field":"hi","type":"quantitative"}}},
    {"data":{"name":"tnfs"},"mark":{"type":"tick","color":"black","thickness":2,"size":8.6},"encoding":{"xOffset":{"field":"c1","type":"nominal","scale":{"domain":["Control- 6h","TNF-α - 6h","Control-12h","TNF-α -12h"],"paddingInner":0.4,"paddingOuter":0}},"y":{"field":"y","type":"quantitative"}}},
    {"data":{"name":"tnfs"},"mark":{"type":"tick","color":"black","thickness":2,"size":8.6},"encoding":{"xOffset":{"field":"c2","type":"nominal","scale":{"domain":["Control- 6h","TNF-α - 6h","Control-12h","TNF-α -12h"],"paddingInner":0.4,"paddingOuter":0}},"y":{"field":"y","type":"quantitative"}}},
    {"data":{"name":"tnfs"},"mark":{"type":"text","dx":4.3,"dy":-3,"baseline":"bottom","fontSize":10,"fontWeight":"bold"},"encoding":{"xOffset":{"field":"c1","type":"nominal","scale":{"domain":["Control- 6h","TNF-α - 6h","Control-12h","TNF-α -12h"],"paddingInner":0.4,"paddingOuter":0}},"y":{"field":"y","type":"quantitative"},"text":{"field":"st"}}}
   ]}
 ]}
]}
]
}
